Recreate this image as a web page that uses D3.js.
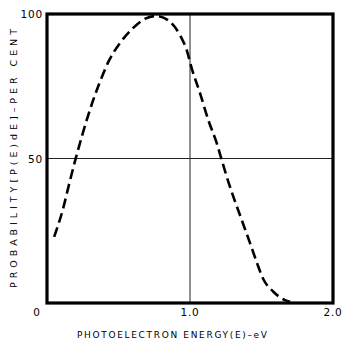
<!DOCTYPE html>
<html>
<head>
<meta charset="utf-8">
<script src="https://cdn.jsdelivr.net/npm/d3@7"></script>
<style>
  body { margin: 0; background: #fff; }
  text { font-family: "DejaVu Sans", sans-serif; fill: #000; }
</style>
</head>
<body>
<svg id="chart" width="342" height="340"></svg>
<script>
// values
const energy = [0.05, 0.11, 0.156, 0.198, 0.25, 0.308, 0.366, 0.436, 0.517, 0.599, 0.692, 0.767,
                0.86, 0.93, 0.977, 1.012, 1.07, 1.128, 1.187, 1.222, 1.257, 1.303, 1.362, 1.42,
                1.466, 1.513, 1.583, 1.664, 1.70];
const probability = [22.9, 32.2, 41.4, 49.5, 58.7, 68.0, 76.0, 84.1, 90.4, 95.0, 98.5, 99.3,
                     97.3, 92.7, 87.5, 81.2, 72.6, 63.3, 55.3, 49.5, 43.7, 36.8, 28.7, 20.7,
                     14.2, 8.2, 3.9, 1.0, 0.4];
const xTicks = [0, 1.0, 2.0];
const xTickLabels = ["0", "1.0", "2.0"];
const yTicks = [50, 100];
const yTickLabels = ["50", "100"];

const svg = d3.select("#chart");
const margin = { top: 14, right: 9, bottom: 37, left: 47 };
const width = +svg.attr("width") - margin.left - margin.right;
const height = +svg.attr("height") - margin.top - margin.bottom;

const g = svg.append("g")
    .attr("transform", "translate(" + margin.left + "," + margin.top + ")");

// scales
const x = d3.scaleLinear().domain([0, 2]).range([0, width]);
const y = d3.scaleLinear().domain([0, 100]).range([height, 0]);

// grid lines at 1.0 eV and 50 percent
g.append("line")
    .attr("x1", x(1)).attr("x2", x(1))
    .attr("y1", 0).attr("y2", height)
    .attr("stroke", "#222").attr("stroke-width", 1);
g.append("line")
    .attr("x1", 0).attr("x2", width)
    .attr("y1", y(50)).attr("y2", y(50))
    .attr("stroke", "#222").attr("stroke-width", 1);

// curve
const data = energy.map((e, i) => ({ x: e, y: probability[i] }));
const line = d3.line()
    .x(d => x(d.x))
    .y(d => y(d.y))
    .curve(d3.curveMonotoneX);

g.append("path")
    .datum(data)
    .attr("d", line)
    .attr("fill", "none")
    .attr("stroke", "#000")
    .attr("stroke-width", 2.6)
    .attr("stroke-dasharray", "10,5");

// frame
g.append("rect")
    .attr("x", 0).attr("y", 0)
    .attr("width", width).attr("height", height)
    .attr("fill", "none")
    .attr("stroke", "#000")
    .attr("stroke-width", 3.2);

// tick labels
g.selectAll(".xlab")
    .data(xTicks)
    .enter().append("text")
    .attr("class", "xlab")
    .attr("x", (d, i) => i === 0 ? x(d) - 10 : x(d))
    .attr("y", height + 13)
    .attr("text-anchor", "middle")
    .attr("font-size", 10.5)
    .attr("letter-spacing", 0.8)
    .text((d, i) => xTickLabels[i]);

g.selectAll(".ylab")
    .data(yTicks)
    .enter().append("text")
    .attr("class", "ylab")
    .attr("x", -4)
    .attr("y", d => y(d) + 4)
    .attr("text-anchor", "end")
    .attr("font-size", 10.5)
    .attr("letter-spacing", 0.8)
    .text((d, i) => yTickLabels[i]);

// axis titles
svg.append("text")
    .attr("x", 77)
    .attr("y", 338)
    .attr("font-size", 9)
    .attr("textLength", 190)
    .attr("lengthAdjust", "spacing")
    .text("PHOTOELECTRON  ENERGY(E)\u2013eV");

svg.append("text")
    .attr("transform", "translate(17,288) rotate(-90)")
    .attr("font-size", 9.5)
    .attr("textLength", 259)
    .attr("lengthAdjust", "spacing")
    .text("PROBABILITY[P(E)dE]\u2013PER CENT");
</script>
</body>
</html>
